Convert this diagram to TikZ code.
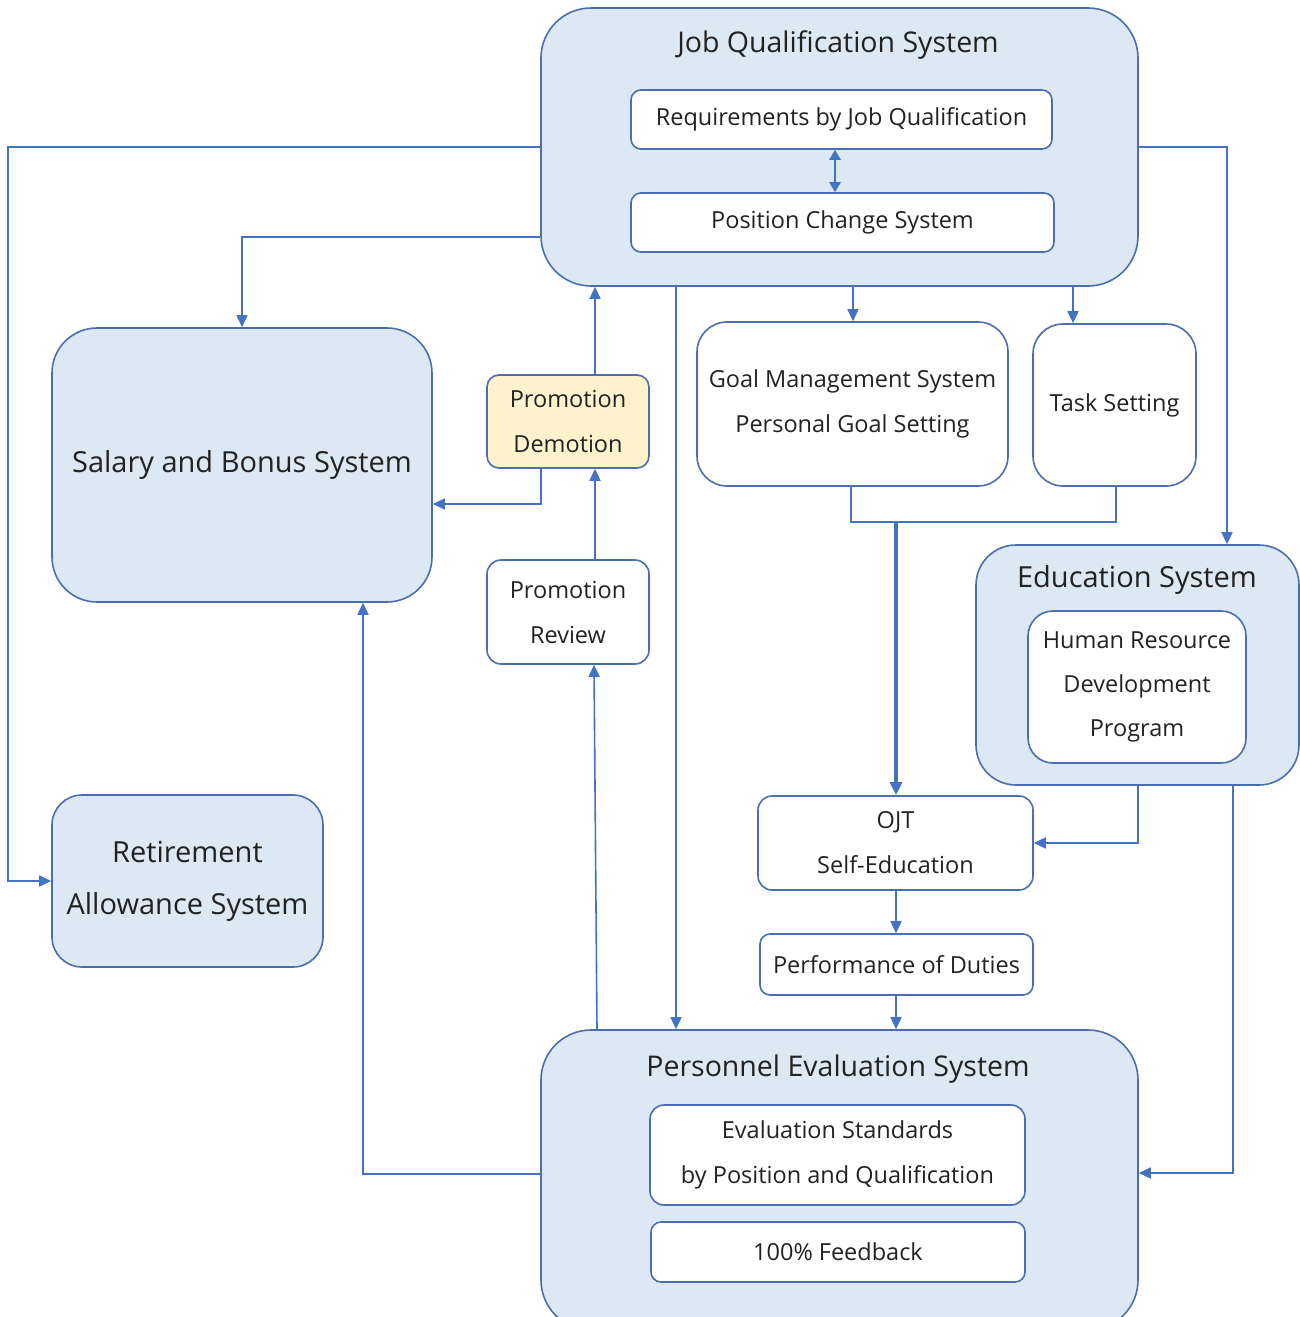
\documentclass[tikz,border=0pt]{standalone}
\usepackage{fontspec}
\setmainfont{Open Sans}
\usetikzlibrary{arrows.meta}
\definecolor{cline}{HTML}{4472C4}
\definecolor{cbord}{HTML}{4A6EB0}
\definecolor{cfill}{HTML}{DDE8F5}
\definecolor{cyel}{HTML}{FFF2CC}
\definecolor{ctext}{HTML}{222222}
\newcommand\myfs[2]{\fontsize{#1}{#2}\selectfont}
\begin{document}
\begin{tikzpicture}[x=1pt,y=-1pt,
  box/.style={draw=cbord,line width=1.6pt,rectangle,rounded corners=#1,inner sep=0pt,text=ctext,align=center},
  box/.default=10,
  inner/.style={fill=white,font=\myfs{23.5}{45}},
  txt/.style={inner sep=0pt,text=ctext,align=center},
  conn/.style={draw=cline,line width=1.6pt,-{Triangle[length=12pt,width=11pt]}},
  plain/.style={draw=cline,line width=1.6pt}]
\useasboundingbox (0,0) rectangle (1300,1317);
\clip (0,0) rectangle (1300,1317);
\fill[white] (0,0) rectangle (1300,1317);

% Job Qualification System
\node[box=50,fill=cfill,minimum width=597,minimum height=278] (jqs) at (839.5,147) {};
\node[txt,font=\myfs{28.5}{30}] (jqst) at (838,45) {Job Qualification System};
\node[box=10,inner,minimum width=421,minimum height=59] (req) at (841.5,119.5) {Requirements by Job Qualification};
\node[box=10,inner,minimum width=423,minimum height=59] (pcs) at (842.5,222.5) {Position Change System};
\draw[draw=cline,line width=2.5pt,{Triangle[length=10pt,width=11pt]}-{Triangle[length=10pt,width=11pt]}] (req.south -| 835,0) -- (pcs.north -| 835,0);

% Salary
\node[box=45,fill=cfill,minimum width=380,minimum height=274,font=\myfs{29}{40}] (sal) at (242,465) {Salary and Bonus System};

% Promotion / Demotion
\node[box=12,fill=cyel,minimum width=162,minimum height=93,font=\myfs{23.5}{45}] (pd) at (568,421.5) {Promotion\\Demotion};
\node[box=14,inner,minimum width=162,minimum height=104] (pr) at (568,612) {Promotion\\Review};

% Goal / Task
\node[box=30,inner,minimum width=311,minimum height=164] (goal) at (852.5,404) {Goal Management System\\Personal Goal Setting};
\node[box=30,inner,minimum width=163,minimum height=162] (task) at (1114.5,405) {Task Setting};

% Education
\node[box=40,fill=cfill,minimum width=323,minimum height=240] (edu) at (1137.5,665) {};
\node[txt,font=\myfs{29}{30}] (edut) at (1137,580) {Education System};
\node[box=25,inner,minimum width=218,minimum height=152,font=\myfs{23.5}{44}] (hrd) at (1137,687) {Human Resource\\Development\\Program};

% OJT / Performance
\node[box=14,inner,minimum width=275,minimum height=94] (ojt) at (895.5,843) {OJT\\Self-Education};
\node[box=10,inner,minimum width=273,minimum height=61] (perf) at (896.5,964.5) {Performance of Duties};

% Retirement
\node[box=30,fill=cfill,minimum width=271,minimum height=172,font=\myfs{29}{52}] (ret) at (187.5,881) {Retirement\\Allowance System};

% Personnel Evaluation
\node[box=50,fill=cfill,minimum width=597,minimum height=300] (pes) at (839.5,1180) {};
\node[txt,font=\myfs{28.5}{30}] (pest) at (838,1069) {Personnel Evaluation System};
\node[box=14,inner,minimum width=375,minimum height=100] (evs) at (837.5,1155) {Evaluation Standards\\by Position and Qualification};
\node[box=10,inner,minimum width=374,minimum height=60] (fb) at (838,1252) {100\% Feedback};

% connectors
\draw[conn] (jqs.west) -- (8,147) |- (ret.west);
\draw[conn] (jqs.west |- 0,237) -| (sal.north);
\draw[conn] (jqs.east) -| (edu.north -| 1227,0);
\draw[conn] (jqs.south -| 853,0) -- (goal.north -| 853,0);
\draw[conn] (jqs.south -| 1073,0) -- (task.north -| 1073,0);
\draw[conn] (jqs.south -| 676,0) -- (pes.north -| 676,0);
\draw[conn] (pd.north -| 595,0) -- (jqs.south -| 595,0);
\draw[conn] (pd.south -| 541,0) |- (sal.east |- 0,504);
\draw[conn] (pr.north -| 595,0) -- (pd.south -| 595,0);
\draw[conn] (pes.north -| 597,0) -- (pr.south -| 594,0);
\draw[conn] (pes.west |- 0,1174) -| (sal.south -| 363,0);
\coordinate (jn) at (896,522);
\draw[plain] (goal.south -| 851,0) |- (jn) -| (task.south -| 1116,0);
\draw[draw=cline,line width=3.2pt,-{Triangle[length=13pt,width=12pt]}] (jn) -- (ojt.north -| 896,0);
\draw[conn] (edu.south -| 1138,0) |- (ojt.east);
\draw[conn] (edu.south -| 1233,0) |- (pes.east |- 0,1173);
\draw[conn] (ojt.south -| 896,0) -- (perf.north -| 896,0);
\draw[conn] (perf.south -| 896,0) -- (pes.north -| 896,0);
\end{tikzpicture}
\end{document}
